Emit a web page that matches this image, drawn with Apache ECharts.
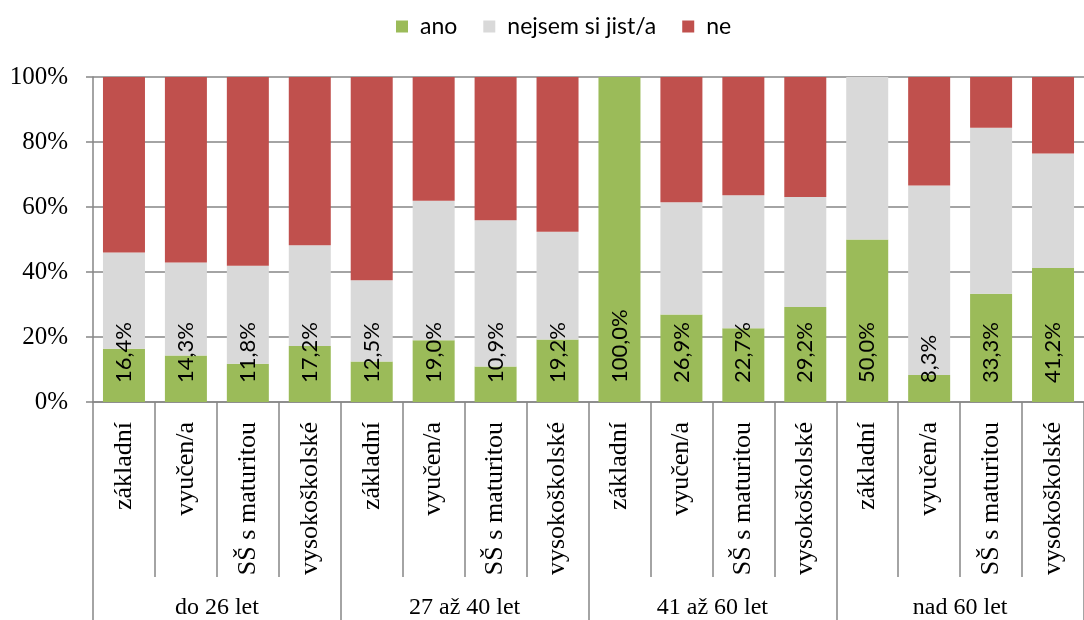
<!DOCTYPE html>
<html>
<head>
<meta charset="utf-8">
<script src="https://cdn.jsdelivr.net/npm/echarts@6/dist/echarts.min.js"></script>
<style>
  html, body { margin: 0; padding: 0; background: #fff; }
  #chart { width: 1084px; height: 620px; }
</style>
</head>
<body>
<div id="chart"></div>
<script>
// Data
const categories = [
  'základní', 'vyučen/a', 'SŠ s maturitou', 'vysokoškolské',
  'základní', 'vyučen/a', 'SŠ s maturitou', 'vysokoškolské',
  'základní', 'vyučen/a', 'SŠ s maturitou', 'vysokoškolské',
  'základní', 'vyučen/a', 'SŠ s maturitou', 'vysokoškolské'
]
const groups = ['do 26 let', '27 až 40 let', '41 až 60 let', 'nad 60 let']

const ano = [16.4, 14.3, 11.8, 17.2, 12.5, 19.0, 10.9, 19.2, 100.0, 26.9, 22.7, 29.2, 50.0, 8.3, 33.3, 41.2]
const nejsem = [29.6, 28.6, 30.1, 31.0, 25.0, 42.9, 45.0, 33.2, 0, 34.6, 40.9, 33.9, 50.0, 58.3, 51.1, 35.3]
const ne = [54.0, 57.1, 58.1, 51.8, 62.5, 38.1, 44.1, 47.6, 0, 38.5, 36.4, 36.9, 0, 33.4, 15.6, 23.5]

const yTicks = [0, 20, 40, 60, 80, 100]

const axisColor = '#868686'
const serif = '"Liberation Serif", "Times New Roman", serif'
const sans = 'Lato, "Open Sans", sans-serif'

const chart = echarts.init(document.getElementById('chart'))

const formatPct = (v) => v.toFixed(1).replace('.', ',') + '%'

const option = {
  animation: false,
  color: ['#9BBB59', '#D9D9D9', '#C0504D'],
  legend: {
    left: 391,
    top: 10,
    icon: 'rect',
    itemWidth: 12,
    itemHeight: 12,
    itemGap: 26,
    textStyle: {
      fontFamily: sans,
      fontSize: 23,
      color: '#000',
      padding: [0, 0, 0, 7]
    },
    data: ['ano', 'nejsem si jist/a', 'ne']
  },
  grid: {
    left: 93,
    right: -11,
    top: 77,
    bottom: 218
  },
  xAxis: [
    {
      type: 'category',
      data: categories,
      position: 'bottom',
      axisLine: { show: true, lineStyle: { color: axisColor, width: 1.5 } },
      axisTick: {
        show: true,
        interval: 0,
        length: 175,
        lineStyle: { color: axisColor, width: 1.5 }
      },
      axisLabel: {
        interval: 0,
        rotate: 90,
        margin: 20,
        fontFamily: serif,
        fontSize: 26,
        color: '#000'
      }
    },
    {
      type: 'category',
      data: groups,
      position: 'bottom',
      axisLine: { show: false },
      axisTick: {
        show: true,
        interval: 0,
        length: 220,
        lineStyle: { color: axisColor, width: 1.5 }
      },
      axisLabel: {
        interval: 0,
        margin: 194,
        fontFamily: serif,
        fontSize: 24,
        color: '#000'
      }
    }
  ],
  yAxis: {
    type: 'value',
    min: yTicks[0],
    max: yTicks[yTicks.length - 1],
    interval: 20,
    axisLine: { show: true, lineStyle: { color: axisColor, width: 1.5 } },
    axisTick: { show: true, length: 7, lineStyle: { color: axisColor, width: 1.5 } },
    splitLine: { show: true, lineStyle: { color: axisColor, width: 1.5 } },
    axisLabel: {
      margin: 25,
      formatter: '{value}%',
      fontFamily: serif,
      fontSize: 25,
      color: '#000'
    }
  },
  series: [
    {
      name: 'ano',
      type: 'bar',
      stack: 'total',
      barWidth: 42,
      data: ano,
      label: {
        show: true,
        position: 'insideBottom',
        distance: 19,
        rotate: 90,
        align: 'left',
        verticalAlign: 'middle',
        fontFamily: sans,
        fontSize: 22,
        color: '#000',
        formatter: (p) => formatPct(p.value)
      }
    },
    {
      name: 'nejsem si jist/a',
      type: 'bar',
      stack: 'total',
      barWidth: 42,
      data: nejsem
    },
    {
      name: 'ne',
      type: 'bar',
      stack: 'total',
      barWidth: 42,
      data: ne
    }
  ]
}

chart.setOption(option)
</script>
</body>
</html>
